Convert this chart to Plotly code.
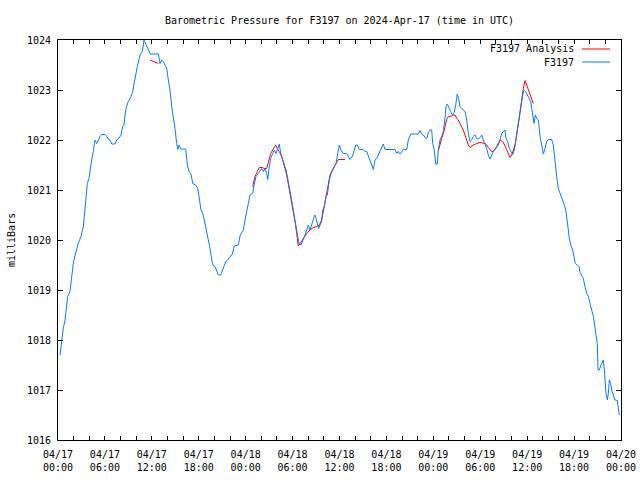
import pandas as pd
import plotly.graph_objects as go

# ---- data (hours since 2024-04-17 00:00 UTC, pressure in mbar) ----
obs_hours = [0.26, 0.47, 0.68, 0.90, 1.24, 1.53, 1.75, 1.96, 2.26, 2.60, 2.94, 3.24, 3.36, 3.54, 3.75, 3.96,
             4.13, 4.31, 4.51, 4.73, 4.95, 5.15, 5.37, 5.59, 6.01, 6.23, 6.43, 6.65, 6.87, 7.29, 7.51, 7.80,
             8.06, 8.27, 8.44, 8.57, 8.73, 8.99, 9.34, 9.55, 9.76, 9.94, 10.14, 10.49, 10.78, 11.00, 11.22,
             11.47, 11.80, 12.83, 13.04, 13.26, 13.47, 13.68, 13.90, 14.11, 14.32, 14.54, 14.75, 14.96, 15.18,
             15.31, 15.47, 15.69, 16.33, 16.54, 16.75, 17.01, 17.23, 17.61, 17.87, 18.07, 18.29, 18.58, 18.80,
             19.02, 19.22, 19.44, 19.66, 19.82, 20.08, 20.30, 20.50, 20.81, 21.01, 21.23, 21.45, 21.70, 22.00,
             22.29, 22.55, 23.06, 23.31, 23.70, 23.92, 24.13, 24.34, 24.55, 24.90, 25.07, 25.32, 25.62, 25.83,
             26.05, 26.26, 26.47, 26.69, 26.82, 27.02, 27.20, 27.46, 27.66, 27.88, 28.10, 28.30, 28.48, 28.74,
             28.94, 29.16, 29.38, 29.58, 29.80, 30.02, 30.22, 30.44, 30.60, 30.82, 31.08, 31.37, 31.59, 31.81,
             32.01, 32.23, 32.45, 32.65, 32.83, 33.00, 33.16, 33.34, 33.51, 33.72, 33.85, 34.02, 34.27, 34.44,
             34.70, 34.91, 35.13, 35.34, 35.55, 35.77, 35.98, 36.19, 36.49, 36.92, 37.13, 37.34, 37.64, 37.86,
             38.07, 38.28, 38.53, 39.04, 39.26, 39.48, 39.68, 39.90, 40.12, 40.32, 40.54, 40.76, 40.96, 41.18,
             41.40, 41.60, 41.82, 43.10, 43.32, 43.52, 43.74, 43.96, 44.16, 44.59, 44.80, 45.11, 46.08, 46.30,
             46.51, 46.72, 46.94, 47.15, 47.36, 47.57, 47.79, 47.92, 48.12, 48.30, 48.51, 48.64, 48.85, 49.07,
             49.28, 49.49, 49.62, 49.79, 50.00, 50.22, 50.43, 50.64, 50.86, 51.07, 51.24, 51.41, 51.63, 51.83,
             52.05, 52.27, 52.47, 52.69, 52.91, 53.11, 53.33, 53.55, 53.75, 53.97, 54.19, 54.39, 54.61, 54.83,
             55.03, 55.25, 55.47, 55.67, 55.89, 56.10, 56.31, 56.53, 56.74, 56.95, 57.17, 57.29, 57.51, 57.72,
             57.93, 58.15, 58.36, 58.57, 58.79, 59.00, 59.18, 59.38, 59.60, 59.81, 60.02, 60.24, 60.45, 60.58,
             60.71, 60.88, 61.04, 61.22, 61.43, 61.64, 61.86, 62.07, 62.28, 62.50, 62.70, 63.14, 63.34, 63.56,
             63.78, 63.98, 64.20, 64.42, 64.55, 64.75, 64.97, 65.13, 65.26, 65.39, 65.57, 65.82, 65.99, 66.16,
             66.41, 66.63, 66.76, 66.98, 67.18, 67.40, 67.62, 67.82, 68.04, 68.25, 68.46, 68.68, 68.84, 68.97,
             69.06, 69.23, 69.44, 69.66, 69.74, 69.87, 69.96, 70.08, 70.25, 70.38, 70.51, 70.68, 70.81, 71.02,
             71.23, 71.53, 71.66, 71.78]
obs_mbar = [1017.70, 1018.00, 1018.24, 1018.40, 1018.87, 1018.97, 1019.27, 1019.54, 1019.74, 1019.94, 1020.07,
            1020.27, 1020.47, 1020.87, 1021.13, 1021.23, 1021.47, 1021.60, 1021.77, 1022.00, 1021.93, 1022.00,
            1022.07, 1022.11, 1022.11, 1022.07, 1022.02, 1022.00, 1021.92, 1021.92, 1022.00, 1022.04, 1022.10,
            1022.27, 1022.30, 1022.50, 1022.65, 1022.77, 1022.87, 1022.97, 1023.17, 1023.27, 1023.47, 1023.70,
            1023.77, 1024.00, 1023.93, 1023.83, 1023.72, 1023.72, 1023.53, 1023.60, 1023.57, 1023.50, 1023.43,
            1023.20, 1023.00, 1022.67, 1022.47, 1022.23, 1021.93, 1021.81, 1021.90, 1021.82, 1021.82, 1021.50,
            1021.37, 1021.32, 1021.13, 1021.10, 1021.03, 1020.80, 1020.60, 1020.50, 1020.33, 1020.20, 1020.03,
            1019.83, 1019.60, 1019.50, 1019.47, 1019.37, 1019.30, 1019.30, 1019.40, 1019.50, 1019.57, 1019.60,
            1019.67, 1019.72, 1019.88, 1019.90, 1020.10, 1020.20, 1020.40, 1020.60, 1020.73, 1020.90, 1020.93,
            1021.10, 1021.27, 1021.33, 1021.37, 1021.43, 1021.37, 1021.43, 1021.33, 1021.21, 1021.47, 1021.63,
            1021.73, 1021.80, 1021.73, 1021.83, 1021.92, 1021.73, 1021.60, 1021.47, 1021.40, 1021.23, 1021.07,
            1020.87, 1020.67, 1020.47, 1020.27, 1020.10, 1019.93, 1019.90, 1020.00, 1020.10, 1020.20, 1020.30,
            1020.20, 1020.30, 1020.40, 1020.50, 1020.43, 1020.33, 1020.23, 1020.30, 1020.37, 1020.60, 1020.63,
            1020.87, 1020.90, 1021.20, 1021.33, 1021.40, 1021.47, 1021.53, 1021.73, 1021.90, 1021.80, 1021.73,
            1021.73, 1021.67, 1021.61, 1021.67, 1021.80, 1021.90, 1021.90, 1021.81, 1021.81, 1021.77, 1021.77,
            1021.67, 1021.60, 1021.50, 1021.41, 1021.60, 1021.63, 1021.70, 1021.77, 1021.83, 1021.92, 1021.81,
            1021.81, 1021.73, 1021.77, 1021.72, 1021.77, 1021.81, 1021.81, 1022.00, 1022.12, 1022.12, 1022.19,
            1022.12, 1022.10, 1022.05, 1022.03, 1022.15, 1022.20, 1022.20, 1021.93, 1021.80, 1021.52, 1021.52,
            1021.80, 1022.00, 1022.07, 1022.17, 1022.43, 1022.67, 1022.72, 1022.63, 1022.57, 1022.50, 1022.53,
            1022.70, 1022.92, 1022.83, 1022.67, 1022.63, 1022.60, 1022.57, 1022.40, 1022.13, 1021.97, 1022.00,
            1022.07, 1022.10, 1022.03, 1022.02, 1022.05, 1022.10, 1022.00, 1021.93, 1021.83, 1021.70, 1021.62,
            1021.70, 1021.77, 1021.81, 1021.87, 1021.90, 1022.00, 1022.13, 1022.17, 1022.20, 1022.03, 1021.97,
            1021.83, 1021.77, 1021.71, 1021.80, 1022.00, 1022.23, 1022.43, 1022.67, 1022.87, 1023.00, 1022.97,
            1022.90, 1022.83, 1022.77, 1022.63, 1022.50, 1022.33, 1022.50, 1022.43, 1022.40, 1022.07, 1021.90,
            1021.72, 1021.83, 1021.97, 1022.01, 1022.01, 1021.90, 1021.53, 1021.27, 1021.03, 1020.93, 1020.87,
            1020.80, 1020.70, 1020.57, 1020.41, 1020.20, 1020.03, 1019.90, 1019.80, 1019.67, 1019.53, 1019.50,
            1019.47, 1019.35, 1019.30, 1019.23, 1019.07, 1018.93, 1018.87, 1018.70, 1018.60, 1018.47, 1018.27,
            1018.13, 1017.93, 1017.40, 1017.40, 1017.50, 1017.57, 1017.60, 1017.40, 1017.13, 1016.93, 1016.80,
            1016.93, 1017.20, 1017.13, 1017.00, 1016.87, 1016.80, 1016.79, 1016.60, 1016.50]

# analysis segments (None separates gaps)
ana_hours = [11.77, 12.11, 12.47, 12.83, None,
             24.90, 25.19, 25.49, 25.74, 26.18, 26.35, 26.69, 26.89, 27.20, 27.46, 27.66, 27.84, 28.04, 28.30,
             28.61, 28.81, 29.03, 29.25, 29.45, 29.67, 29.89, 30.09, 30.31, 30.53, 30.73, 30.95, 31.37, 31.81,
             32.23, 32.65, 33.09, 33.42, 33.72, 33.93, 34.15, 34.36, 34.57, 34.79, 35.00, 35.21, 35.43, 35.64,
             35.85, 36.70, None,
             48.64, 48.85, 49.07, 49.28, 49.49, 49.71, 49.92, 50.35, 50.55, 50.77, 50.99, 51.19, 51.41, 51.63,
             51.83, 52.05, 52.27, 52.47, 52.69, 53.11, 53.55, 53.97, 54.61, 54.83, 55.03, 55.25, 55.47, 55.67,
             56.10, 56.53, 56.87, 57.17, 57.38, 57.59, 57.81, 58.03, 58.23, 58.45, 58.66, 58.87, 59.09, 59.30,
             59.51, 59.72, 59.94, 60.14, 60.36, 60.58, 60.78]
ana_mbar = [1023.60, 1023.58, 1023.55, 1023.53, None,
            1021.07, 1021.27, 1021.37, 1021.45, 1021.45, 1021.43, 1021.43, 1021.53, 1021.73, 1021.80, 1021.87,
            1021.90, 1021.83, 1021.77, 1021.67, 1021.57, 1021.43, 1021.30, 1021.13, 1020.97, 1020.77, 1020.57,
            1020.37, 1020.13, 1019.88, 1019.93, 1020.03, 1020.13, 1020.20, 1020.25, 1020.27, 1020.30, 1020.40,
            1020.57, 1020.77, 1020.90, 1021.10, 1021.30, 1021.37, 1021.43, 1021.50, 1021.57, 1021.61, 1021.61, None,
            1021.79, 1021.93, 1022.03, 1022.13, 1022.30, 1022.41, 1022.47, 1022.48, 1022.50, 1022.50, 1022.43,
            1022.40, 1022.33, 1022.27, 1022.20, 1022.10, 1022.00, 1021.90, 1021.85, 1021.90, 1021.93, 1021.95,
            1021.93, 1021.90, 1021.85, 1021.80, 1021.77, 1021.77, 1021.87, 1022.00, 1021.97, 1021.88, 1021.80,
            1021.73, 1021.65, 1021.70, 1021.80, 1021.90, 1022.10, 1022.30, 1022.50, 1022.77, 1023.03, 1023.19,
            1023.10, 1023.01, 1022.93, 1022.83, 1022.73]

tick_hours = list(range(0, 73, 2))          # tick marks every 2 h, labelled every 6 h
y_ticks = [1016, 1017, 1018, 1019, 1020, 1021, 1022, 1023, 1024]

BASE = pd.Timestamp("2024-04-17 00:00")


def to_time(hours):
    return [None if h is None else BASE + pd.Timedelta(hours=h) for h in hours]


FONT = "DejaVu Sans Mono"
BLUE = "#0a7cf5"
RED = "#ff0000"

FIG_W, FIG_H = 640, 480
PL, PR, PT, PB = 58, 621, 40, 440          # plot box in pixels
PW, PH = PR - PL, PB - PT

fig = go.Figure()
fig.add_trace(go.Scatter(x=to_time(ana_hours), y=ana_mbar, mode="lines", name="F3197 Analysis",
                         line=dict(color=RED, width=1), connectgaps=False, showlegend=False))
fig.add_trace(go.Scatter(x=to_time(obs_hours), y=obs_mbar, mode="lines", name="F3197",
                         line=dict(color=BLUE, width=1), showlegend=False))

tick_times = to_time(tick_hours)
tick_text = [t.strftime("%m/%d<br>%H:%M") if h % 6 == 0 else "" for t, h in zip(tick_times, tick_hours)]

fig.update_layout(
    width=FIG_W, height=FIG_H, autosize=False,
    margin=dict(l=PL, r=FIG_W - PR, t=PT, b=FIG_H - PB, pad=0, autoexpand=False),
    paper_bgcolor="white", plot_bgcolor="white",
    font=dict(family=FONT, size=10, color="black"),
    title=dict(text="Barometric Pressure for F3197 on 2024-Apr-17 (time in UTC)",
               xref="paper", x=0.5, xanchor="center", y=1 - 20 / FIG_H, yanchor="middle",
               font=dict(family=FONT, size=10, color="black")),
    xaxis=dict(range=[BASE, BASE + pd.Timedelta(hours=72)], tickmode="array",
               tickvals=tick_times, ticktext=tick_text, ticks="inside", ticklen=4, tickcolor="black",
               showline=True, linecolor="black", linewidth=1, mirror="allticks", showgrid=False,
               zeroline=False, tickangle=0, automargin=False, ticklabeloverflow="allow",
               ticklabelstandoff=5),
    yaxis=dict(range=[1016, 1024], tickmode="array", tickvals=y_ticks, ticktext=[str(v) for v in y_ticks],
               ticks="inside", ticklen=5, tickcolor="black", showline=True, linecolor="black", linewidth=1,
               mirror="allticks", showgrid=False, zeroline=False, ticklabelstandoff=4, automargin=False),
    showlegend=False,
)

# y-axis title
fig.add_annotation(text="milliBars", xref="paper", yref="paper", x=(11 - PL) / PW, y=0.5,
                   textangle=-90, showarrow=False, xanchor="center", yanchor="middle",
                   font=dict(family=FONT, size=10, color="black"))

# gnuplot-style key (text then sample line on the right)
key = [("F3197 Analysis", RED, 49), ("F3197", BLUE, 62)]
for label, color, ypx in key:
    yp = 1 - (ypx - PT) / PH
    fig.add_annotation(text=label, xref="paper", yref="paper", x=(576 - PL) / PW, y=yp,
                       xanchor="right", yanchor="middle", showarrow=False,
                       font=dict(family=FONT, size=10, color="black"))
    fig.add_shape(type="line", xref="paper", yref="paper", x0=(582 - PL) / PW, x1=(610 - PL) / PW,
                  y0=yp, y1=yp, line=dict(color=color, width=1))

# place the figure at the page's top-left corner (no default body margin), no mode bar
fig.write_html("out.html", config={"displayModeBar": False},
               post_script="document.body.style.margin='0px';")
